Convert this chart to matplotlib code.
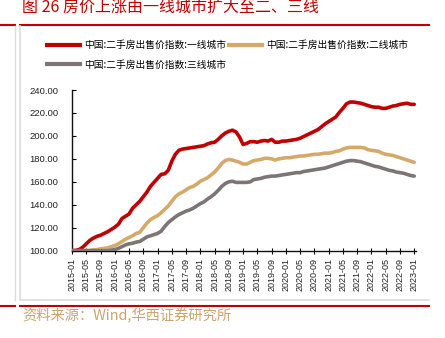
import matplotlib
matplotlib.use("Agg")
import matplotlib.pyplot as plt
from matplotlib.lines import Line2D
import numpy as np
import pandas as pd

plt.rcParams['font.family'] = ['Noto Sans CJK SC', 'DejaVu Sans']

months = pd.date_range("2015-01-01", "2023-01-01", freq="MS")

tier1 = [100, 100.3, 101, 103, 106, 109, 111, 112.5, 113.5, 115, 116.5, 118.5, 120.5, 123, 128, 130,
         132, 137, 140, 143, 147, 151, 156, 159.5, 163, 166.5, 167, 170, 178, 184, 187.5, 188.5,
         189, 189.5, 190, 190.5, 191, 191.5, 193, 194, 194.5, 197, 200, 202.5, 204, 205, 203.5, 199,
         192.5, 193.5, 195, 195, 194.5, 195.5, 196, 195.5, 197, 194.5, 194.5, 195.5, 195.5, 196, 196.5, 197,
         198, 199.5, 201, 202.5, 204, 205.5, 208, 210.5, 212.5, 214.5, 216.5, 220.5, 224, 228, 229.5, 229.5,
         229, 228.5, 227.5, 226.5, 225.5, 225, 225, 224, 224, 225, 226, 226.5, 227.5, 228, 228.5, 227.5, 227.5]

tier2 = [100, 100, 100, 100, 100, 100.3, 100.8, 101, 101.5, 102, 102.5, 103.5, 104.5, 106, 108, 110,
         111.5, 113, 115, 116, 120, 124, 127, 129, 130.5, 133, 136, 139, 143, 147, 149.5, 151,
         153, 155, 156, 158, 160.5, 162, 163.5, 166, 168.5, 172, 176, 178.5, 179.5, 179, 178, 177,
         175.5, 175.5, 177, 178.5, 179, 179.5, 180.5, 180.5, 180, 179, 180, 180.5, 181, 181, 181.5, 182,
         182.5, 182.5, 183, 183.5, 184, 184, 184.5, 185, 185, 185.5, 186.5, 187, 188.5, 189.5, 190, 190,
         190, 190, 189.5, 188, 187.5, 187, 186.5, 185, 184, 183.5, 183, 182, 181, 180, 179, 178, 177]

tier3 = [100, 100, 100, 100, 100, 100, 100, 100, 100, 100, 100, 100.5, 101, 102, 103.5, 105,
         106, 106.5, 107.5, 108, 110, 112, 113, 114, 115, 117, 121, 124.5, 127, 129.5, 131.5, 133,
         134.5, 135.5, 137, 139, 141, 142.5, 145, 147, 149.5, 152.5, 156, 158.5, 160, 160.5, 159.5, 159.5,
         159.5, 159.5, 160, 162, 162.5, 163, 164, 164.5, 165, 165, 165.5, 166, 166.5, 167, 167.5, 168,
         168, 169, 169.5, 170, 170.5, 171, 171.5, 172, 173, 174, 175, 176, 177, 178, 178.5, 178.5,
         178, 177.5, 176.5, 175.5, 174.5, 173.5, 173, 172, 171, 170, 169.5, 168.5, 168, 167.5, 166.5, 165.5, 165]

names = ["中国:二手房出售价指数:一线城市", "中国:二手房出售价指数:二线城市", "中国:二手房出售价指数:三线城市"]
colors = ["#c00000", "#d4a96a", "#7d7575"]

title = "图 26 房价上涨由一线城市扩大至二、三线"
source = "资料来源：Wind,华西证券研究所"

yticks = [100, 120, 140, 160, 180, 200, 220, 240]

W, H = 445, 338
fig = plt.figure(figsize=(W / 100, H / 100), dpi=100)

def fx(px):
    return px / W

def fy(py):
    return 1 - py / H

ax = fig.add_axes([fx(72), fy(250.7), fx(416) - fx(72), fy(90) - fy(250.7)])

x = np.arange(len(months))
for vals, c, n in zip([tier1, tier2, tier3], colors, names):
    ax.plot(x, vals, color=c, lw=2.6, label=n, solid_capstyle='round', zorder=3)

ax.set_xlim(0, 96.5)
ax.set_ylim(100, 240)
ax.set_yticks(yticks)
ax.set_yticklabels([f"{v:.2f}" for v in yticks], family=['Liberation Sans'], fontsize=6.8, color='#222222')
tick_idx = list(range(0, len(months), 4))
ax.set_xticks(tick_idx)
ax.set_xticklabels([months[i].strftime("%Y-%m") for i in tick_idx], rotation=90,
                   family=['Liberation Sans'], fontsize=6.5, color='#222222')
ax.tick_params(axis='y', direction='in', length=3, width=0.8, pad=10)
ax.tick_params(axis='x', direction='inout', length=4, width=0.8, pad=3)
for s in ['top', 'right']:
    ax.spines[s].set_visible(False)
ax.spines['left'].set_color('#111111')
ax.spines['bottom'].set_color('#111111')
ax.spines['left'].set_linewidth(1.0)
ax.spines['bottom'].set_linewidth(1.0)

# legend
handles = [Line2D([0], [0], color=c, lw=3) for c in colors]
fig.legend(handles[:2], names[:2], loc='center left', bbox_to_anchor=(fx(47), fy(45)),
           ncol=2, frameon=False, fontsize=7, handlelength=3.4, columnspacing=0.3,
           handletextpad=0.4, borderaxespad=0, borderpad=0)
fig.legend(handles[2:], names[2:], loc='center left', bbox_to_anchor=(fx(47), fy(64.5)),
           ncol=1, frameon=False, fontsize=7, handlelength=3.4, handletextpad=0.4,
           borderaxespad=0, borderpad=0)

# title
fig.text(fx(22), fy(7), title, color='#c00000', fontsize=11.5, va='center', ha='left')

# decorative lines
red = '#c00000'
for y in (24.5, 305.7):
    fig.add_artist(Line2D([fx(0), fx(15)], [fy(y), fy(y)], color=red, lw=1.5))
    fig.add_artist(Line2D([fx(20), fx(429)], [fy(y), fy(y)], color=red, lw=1.5))
grey = '#dddddd'
fig.add_artist(Line2D([fx(20), fx(20)], [fy(26), fy(300)], color=grey, lw=1.2))
fig.add_artist(Line2D([fx(20), fx(429)], [fy(300), fy(300)], color=grey, lw=1.2))
fig.add_artist(Line2D([fx(15), fx(15)], [fy(26), fy(300)], color=grey, lw=1.0))

fig.text(fx(22), fy(316), source, color='#c9a46f', fontsize=10.3, va='center', ha='left')

fig.savefig("out.png", dpi=100)
